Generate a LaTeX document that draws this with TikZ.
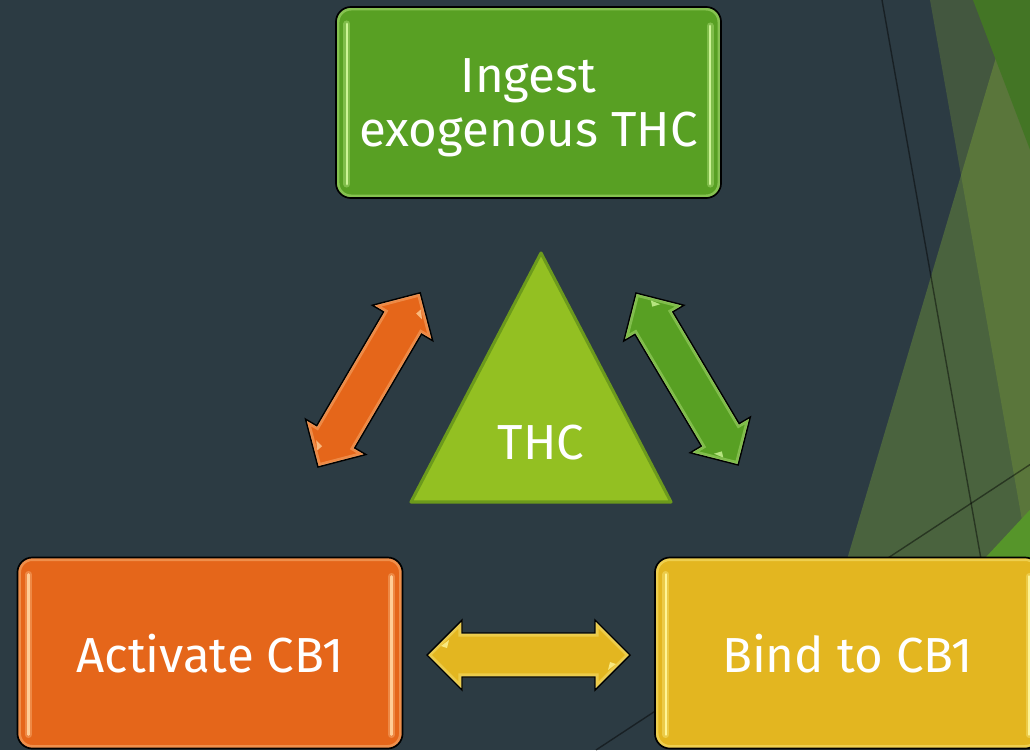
\documentclass[tikz,border=0pt]{standalone}
\usepackage{fontspec}
\setmainfont{Fira Sans}
\usetikzlibrary{calc}
\definecolor{bg}{RGB}{44,59,67}
\definecolor{boxgreen}{RGB}{88,160,35}
\definecolor{boxorange}{RGB}{229,102,26}
\definecolor{boxyellow}{RGB}{227,182,32}
\definecolor{trifill}{RGB}{147,192,34}
\definecolor{triedge}{RGB}{108,154,28}
\definecolor{tintA}{RGB}{67,87,63}
\definecolor{tintB}{RGB}{144,192,53}
\definecolor{topgreen}{RGB}{67,117,37}
\definecolor{brightgreen}{RGB}{86,149,42}
\definecolor{hlgreen}{RGB}{205,245,150}
\definecolor{hlorange}{RGB}{255,205,150}
\definecolor{hlyellow}{RGB}{255,245,150}
\newcommand\boxfont{\fontsize{35}{38.3}\selectfont}
\newcommand\dblarrow[6]{%
  \begin{scope}[shift={(#3,#4)}, rotate=#5]
    \def\arrowpath{(0,0) -- (35,-35) -- (35,-22) -- ({#6-35},-22) -- ({#6-35},-35) -- (#6,0) -- ({#6-35},35) -- ({#6-35},22) -- (35,22) -- (35,35) -- cycle}
    \fill[#1] \arrowpath;
    \begin{scope}
      \clip \arrowpath;
      \draw[#2, opacity=0.35, line width=5pt, line join=miter] \arrowpath;
      \draw[#2, opacity=0.5, line width=1.6pt, line join=miter] \arrowpath;
    \end{scope}
    \draw[black, line width=1pt, line join=miter] \arrowpath;
    \fill[#2, opacity=0.8] (14,-9) -- (22,-15) -- (20,-7) -- cycle;
    \fill[#2, opacity=0.8] ({#6-14},9) -- ({#6-22},15) -- ({#6-20},7) -- cycle;
  \end{scope}}
\tikzset{
  box/.style 2 args={draw=black, line width=1.2pt, rounded corners=0.375cm,
    minimum width=9.625cm, minimum height=4.775cm, inner sep=0pt,
    text=white, align=center, font=\boxfont, fill=#1, text depth=0pt,
    path picture={
      \draw[#2, opacity=0.4, line width=5pt, rounded corners=0.375cm]
        (path picture bounding box.south west) rectangle (path picture bounding box.north east);
      \draw[#2, opacity=0.35, line width=5pt, line cap=round]
        ([shift={(11,17)}]path picture bounding box.north west) -- ([shift={(11,-14)}]path picture bounding box.south west);
      \draw[#2, opacity=0.35, line width=5pt, line cap=round]
        ([shift={(-11,19)}]path picture bounding box.north east) -- ([shift={(-11,-14)}]path picture bounding box.south east);
      \draw[#2, line width=2pt, line cap=round]
        ([shift={(11,17)}]path picture bounding box.north west) -- ([shift={(11,-14)}]path picture bounding box.south west);
      \draw[#2, line width=2pt, line cap=round]
        ([shift={(-11,19)}]path picture bounding box.north east) -- ([shift={(-11,-14)}]path picture bounding box.south east);
    }},
  facetline/.style={black, opacity=0.45, line width=1pt},
  labeltext/.style={text=white, font=\boxfont, inner sep=0pt}
}
\begin{document}
\begin{tikzpicture}[x=0.025cm, y=-0.025cm]
\useasboundingbox (0,0) rectangle (1030,750);
\clip (0,0) rectangle (1030,750);
\fill[bg] (0,0) rectangle (1030,750);
% background facets
\fill[tintA] (930,0) -- (1040,0) -- (1040,560) -- (1029,560) -- cycle;
\fill[tintB, fill opacity=0.3] (1013,0) -- (1040,0) -- (1040,600) -- (835,600) -- cycle;
\fill[topgreen] (973,0) -- (1040,0) -- (1040,176) -- cycle;
\fill[brightgreen] (1040,499) -- (1040,600) -- (946,600) -- cycle;
\draw[facetline] (882,0) -- (990,610);
\draw[facetline] (596,750) -- (1040,458);
% boxes
\node[box={boxgreen}{hlgreen}] (ingest) at (528.5,102.5) {Ingest\\exogenous THC};
\node[box={boxorange}{hlorange}] (activate) at (210,653) {Activate CB1};
\node[box={boxyellow}{hlyellow}] (bind) at (847.5,653) {Bind to CB1};
% triangle
\coordinate (tA) at (541,253);
\coordinate (tL) at (411,502);
\coordinate (tR) at (671,502);
\draw[fill=trifill, draw=triedge, line width=2.2pt, line join=round] (tA) -- (tL) -- (tR) -- cycle;
\node[labeltext] (thc) at (541,443) {THC};
% arrows
\dblarrow{boxorange}{hlorange}{318}{467}{59.6}{202}
\dblarrow{boxgreen}{hlgreen}{636}{293}{-59.3}{200}
\dblarrow{boxyellow}{hlyellow}{427}{655}{0}{203}
\end{tikzpicture}
\end{document}
